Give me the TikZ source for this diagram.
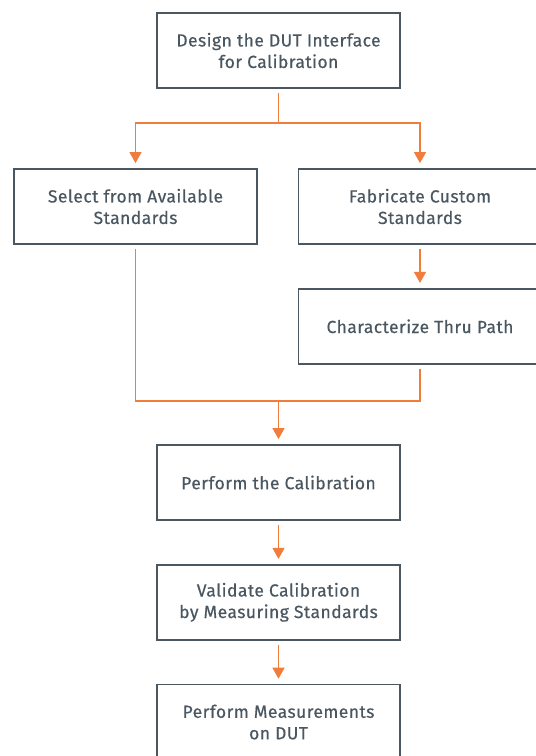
\documentclass[tikz,border=0pt]{standalone}
\usepackage{fontspec}
\setmainfont{Fira Sans}[FakeBold=0.5, LetterSpace=2.5]
\usetikzlibrary{positioning,arrows.meta}
\definecolor{boxgray}{HTML}{4A5761}
\definecolor{flow}{HTML}{F07D3C}
\begin{document}
\begin{tikzpicture}[
    x=1pt, y=1pt,
    node distance=43pt,
    stepbox/.style={draw=boxgray, line width=1.8pt, text=boxgray,
        minimum width=243pt, minimum height=75pt, align=center,
        font=\fontsize{17.5}{21.5}\selectfont},
    flowline/.style={draw=flow, line width=1.3pt, shorten <=4pt},
    flowarrow/.style={flowline, -{Triangle[width=12pt,length=11pt]}, shorten >=5pt}
    ]
    \useasboundingbox (0,0) rectangle (536,756);
    \node[stepbox] (design) at (278.5,705.5) {Design the DUT Interface\\for Calibration};
    \node[stepbox] (select) at (135.5,549.5) {Select from Available\\Standards};
    \node[stepbox] (fabricate) at (420,549.5) {Fabricate Custom\\Standards};
    \node[stepbox, below=of fabricate] (thru) {Characterize Thru Path};
    \node[stepbox] (calib) at (278.5,273.5) {Perform the Calibration};
    \node[stepbox, below=of calib] (validate) {Validate Calibration\\by Measuring Standards};
    \node[stepbox, below=of validate] (measure) {Perform Measurements\\on DUT};
    % split after the interface design
    \draw[flowarrow] (design.south) -- ++(0,-34) -| (select.north);
    \draw[flowarrow] (design.south) -- ++(0,-34) -| (fabricate.north);
    \draw[flowarrow] (fabricate) -- (thru);
    % both branches meet again
    \coordinate[above=of calib.north] (join);
    \draw[flowline] (select.south) |- (join);
    \draw[flowline] (thru.south) |- (join);
    \draw[flowarrow, shorten <=0pt] (join) -- (calib.north);
    \draw[flowarrow] (calib) -- (validate);
    \draw[flowarrow] (validate) -- (measure);
\end{tikzpicture}
\end{document}
